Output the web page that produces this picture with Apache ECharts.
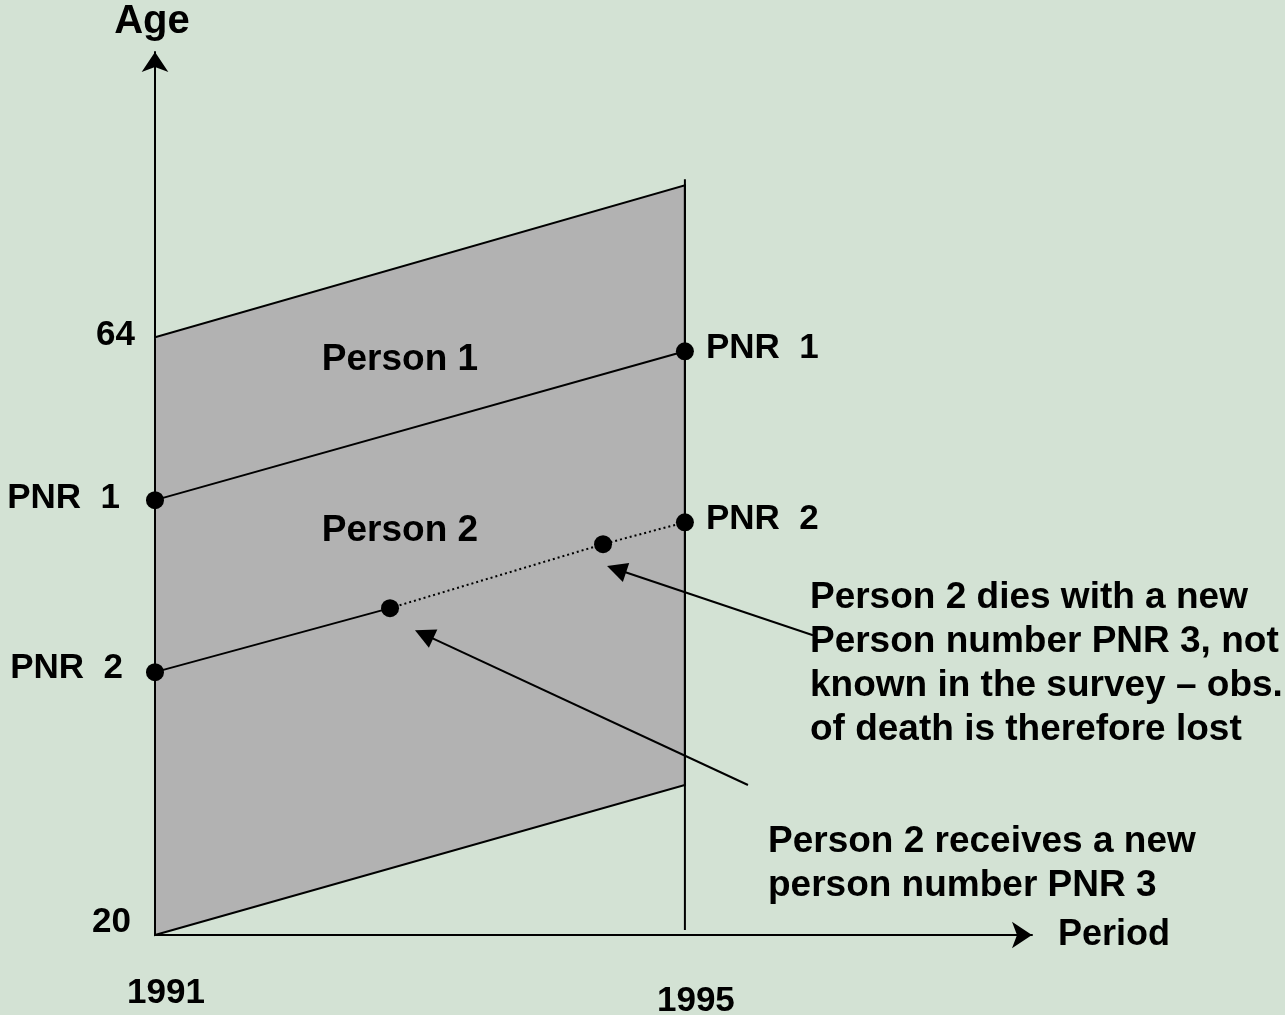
<!DOCTYPE html>
<html>
<head>
<meta charset="utf-8">
<script src="https://cdn.jsdelivr.net/npm/echarts@6/dist/echarts.min.js"></script>
<style>
  html, body { margin: 0; padding: 0; background: #d3e2d4; }
  #chart { width: 1285px; height: 1015px; }
</style>
</head>
<body>
<div id="chart"></div>
<script>
// Lexis diagram: period (years) on x, age on y
const periodTicks = [1991, 1995]
const ageTicks = [20, 64]

// observation window (grey parallelogram)
const windowCorners = [[1991, 20], [1995, 31.04], [1995, 75.18], [1991, 64]]
const periodEndLine = [[1995, 20.37], [1995, 75.63]]

// life lines
const person1Line = [[1991, 52.01], [1995, 62.97]]
const person2Line = [[1991, 39.35], [1992.774, 44.06]]
const person2Lost = [[1992.774, 44.06], [1994.382, 48.77], [1995, 50.38]]
const dots = [[1991, 52.01], [1995, 62.97], [1991, 39.35], [1992.774, 44.06], [1994.382, 48.77], [1995, 50.38]]

// annotation arrows: [from, to]
const arrows = [
  [[1995.967, 42.07], [1994.484, 46.92]],
  [[1995.476, 31.04], [1993.031, 42.13]],
]

// text notes: [x, age, text, align, verticalAlign]
const notes = [
  [1992.849, 62.31, 'Person 1', 'center', 'middle'],
  [1992.849, 49.73, 'Person 2', 'center', 'middle'],
  [1990.736, 52.15, 'PNR  1', 'right', 'middle'],
  [1990.758, 39.65, 'PNR  2', 'right', 'middle'],
  [1995.159, 63.19, 'PNR  1', 'left', 'middle'],
  [1995.159, 50.61, 'PNR  2', 'left', 'middle'],
  [1995.944, 46.41, 'Person 2 dies with a new\nPerson number PNR 3, not\nknown in the survey \u2013 obs.\nof death is therefore lost', 'left', 'top'],
  [1995.627, 28.46, 'Person 2 receives a new\nperson number PNR 3', 'left', 'top'],
]

const font = "'Liberation Sans', Arial, sans-serif"
const black = '#000'

const chart = echarts.init(document.getElementById('chart'))

chart.setOption({
  backgroundColor: '#d3e2d4',
  animation: false,
  grid: { left: 155, right: 253, top: 52, bottom: 80, outerBoundsMode: 'none' },
  xAxis: {
    type: 'value',
    min: 1991,
    max: 1997.62,
    name: 'Period',
    nameLocation: 'end',
    nameGap: 26,
    nameTextStyle: { fontFamily: font, fontWeight: 'bold', fontSize: 36, color: black },
    axisLine: { show: true, symbol: ['none', 'arrow'], symbolSize: [20, 20], lineStyle: { color: black, width: 2 } },
    axisTick: { show: false },
    splitLine: { show: false },
    axisLabel: {
      customValues: periodTicks,
      margin: 41,
      padding: [0, 0, 0, 22],
      formatter: (v) => v === 1995 ? '{lo|' + v + '}' : '{hi|' + v + '}',
      rich: {
        hi: { fontFamily: font, fontWeight: 'bold', fontSize: 35, color: black },
        lo: { fontFamily: font, fontWeight: 'bold', fontSize: 35, color: black, padding: [8, 0, 0, 0] },
      },
    },
  },
  yAxis: {
    type: 'value',
    min: 20,
    max: 85,
    name: 'Age',
    nameLocation: 'end',
    nameGap: 10,
    nameTextStyle: { fontFamily: font, fontWeight: 'bold', fontSize: 40, color: black, padding: [0, 6, 0, 0] },
    axisLine: { show: true, symbol: ['none', 'arrow'], symbolSize: [20, 20], lineStyle: { color: black, width: 2 } },
    axisTick: { show: false },
    splitLine: { show: false },
    axisLabel: {
      customValues: ageTicks,
      margin: 20,
      formatter: (v) => v === 20 ? '{lo|' + v + '}' : '{hi|' + v + '}',
      rich: {
        lo: { fontFamily: font, fontWeight: 'bold', fontSize: 35, color: black, padding: [0, 4, 26, 0] },
        hi: { fontFamily: font, fontWeight: 'bold', fontSize: 35, color: black, padding: [0, 0, 4, 0] },
      },
    },
  },
  series: [
    {
      type: 'custom',
      z: 1,
      renderItem: (params, api) => ({
        type: 'polygon',
        shape: { points: windowCorners.map(p => api.coord(p)) },
        style: { fill: '#b2b2b2', stroke: black, lineWidth: 2 },
      }),
      data: [0],
    },
    {
      type: 'line', z: 2, symbol: 'none', data: periodEndLine,
      lineStyle: { color: black, width: 2 },
    },
    {
      type: 'line', z: 2, symbol: 'none', data: person1Line,
      lineStyle: { color: black, width: 2 },
    },
    {
      type: 'line', z: 2, symbol: 'none', data: person2Line,
      lineStyle: { color: black, width: 2 },
    },
    {
      type: 'line', z: 2, symbol: 'none', data: person2Lost,
      lineStyle: { color: black, width: 2, type: [2, 3] },
    },
    {
      type: 'scatter', z: 4, symbol: 'circle', symbolSize: 18, data: dots,
      itemStyle: { color: black, opacity: 1 },
    },
    {
      type: 'lines',
      coordinateSystem: 'cartesian2d',
      z: 3,
      symbol: ['none', 'triangle'],
      symbolSize: 20,
      lineStyle: { color: black, width: 2, opacity: 1 },
      data: arrows.map(a => ({ coords: a })),
    },
    {
      type: 'scatter',
      z: 5,
      symbolSize: 0,
      silent: true,
      clip: false,
      itemStyle: { opacity: 1 },
      data: notes.map(n => ({
        value: [n[0], n[1]],
        label: {
          show: true,
          position: [0, 0],
          formatter: n[2],
          align: n[3],
          verticalAlign: n[4],
          fontFamily: font,
          fontWeight: 'bold',
          fontSize: n[2].startsWith('PNR') ? 35 : 37,
          lineHeight: 44,
          color: black,
        },
      })),
    },
  ],
})
</script>
</body>
</html>
